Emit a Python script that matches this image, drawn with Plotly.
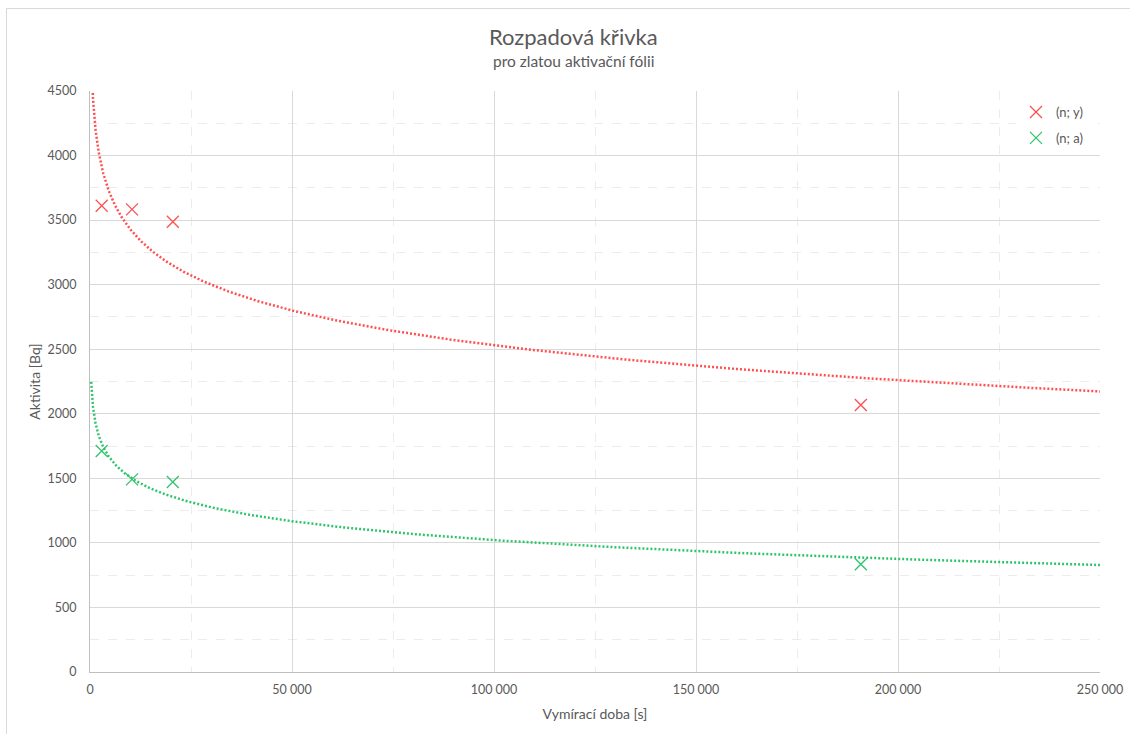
import numpy as np
import plotly.graph_objects as go

# Measured decay data: counting time [s] vs. activity [Bq]
t_meas = [2900, 10400, 20500, 190800]
act_y = [3611, 3583, 3487, 2068]   # series (n; y)
act_a = [1712, 1492, 1471, 834]    # series (n; a)

series_names = ["(n; y)", "(n; a)"]
colors = ["#ff4f4f", "#2fc46c"]
x_ticks = [0, 50000, 100000, 150000, 200000, 250000]

W, H = 1130, 734
L, R, T, B = 90, 30, 91, 62
pw, ph = W - L - R, H - T - B


def px_x(p):
    return (p - L) / pw


def px_y(p):
    return (H - B - p) / ph


# Logarithmic trendlines y = a + b*ln(t), fitted to the measured points
t_fit = np.geomspace(300, 250000, 400)

fig = go.Figure()
for vals, name, col in zip([act_y, act_a], series_names, colors):
    b, a = np.polyfit(np.log(t_meas), vals, 1)
    fig.add_trace(go.Scatter(
        x=t_fit, y=a + b * np.log(t_fit), mode="lines",
        line=dict(color=col, width=2.5, dash="2px,2px"),
        showlegend=False, hoverinfo="skip"))
for vals, name, col in zip([act_y, act_a], series_names, colors):
    fig.add_trace(go.Scatter(
        x=t_meas, y=vals, mode="markers", name=name, legendgroup=name,
        marker=dict(symbol="x-thin", size=12, color=col,
                    line=dict(color=col, width=1.3))))

font_fam = "Lato, 'Open Sans', sans-serif"
tick_col = "#595959"
fig.update_layout(
    width=W, height=H,
    margin=dict(l=L, r=R, t=T, b=B),
    paper_bgcolor="white", plot_bgcolor="white",
    separators=", ",
    font=dict(family=font_fam, color=tick_col, size=11),
    xaxis=dict(
        range=[0, 250000], tickvals=x_ticks, tickformat=",d", ticks="",
        automargin=False,
        showgrid=True, gridcolor="#d9d9d9", gridwidth=1,
        minor=dict(dtick=25000, showgrid=True, gridcolor="#ececec",
                   griddash="dash", gridwidth=1),
        showline=True, linecolor="#bfbfbf", linewidth=1,
        zeroline=False, ticklabelstandoff=6,
        tickfont=dict(size=12.5, color=tick_col),
        title=dict(text="Vymírací doba [s]", standoff=13,
                   font=dict(size=14, color=tick_col)),
    ),
    yaxis=dict(
        range=[0, 4500], dtick=500, ticks="",
        automargin=False,
        showgrid=True, gridcolor="#d9d9d9", gridwidth=1,
        minor=dict(dtick=250, showgrid=True, gridcolor="#ececec",
                   griddash="dash", gridwidth=1),
        showline=True, linecolor="#bfbfbf", linewidth=1,
        zeroline=False, ticklabelstandoff=10,
        tickfont=dict(size=12.5, color=tick_col),
        title=dict(text="Aktivita [Bq]", standoff=3,
                   font=dict(size=14, color=tick_col)),
    ),
    legend=dict(
        x=px_x(1016), y=px_y(97), xanchor="left", yanchor="top",
        bgcolor="white", borderwidth=0, itemwidth=30,
        font=dict(size=13, color=tick_col), tracegroupgap=6,
    ),
    annotations=[
        dict(text="Rozpadová křivka", x=px_x(573), y=px_y(36),
             xref="paper", yref="paper", showarrow=False,
             xanchor="center", yanchor="middle",
             font=dict(size=22, color=tick_col)),
        dict(text="pro zlatou aktivační fólii", x=px_x(573), y=px_y(61),
             xref="paper", yref="paper", showarrow=False,
             xanchor="center", yanchor="middle",
             font=dict(size=15.5, color=tick_col)),
    ],
    shapes=[
        dict(type="rect", xref="paper", yref="paper",
             x0=px_x(6.5), x1=px_x(1140), y0=px_y(745), y1=px_y(8.5),
             line=dict(color="#d9d9d9", width=1), layer="below"),
    ],
)

fig.write_html("out.html")
